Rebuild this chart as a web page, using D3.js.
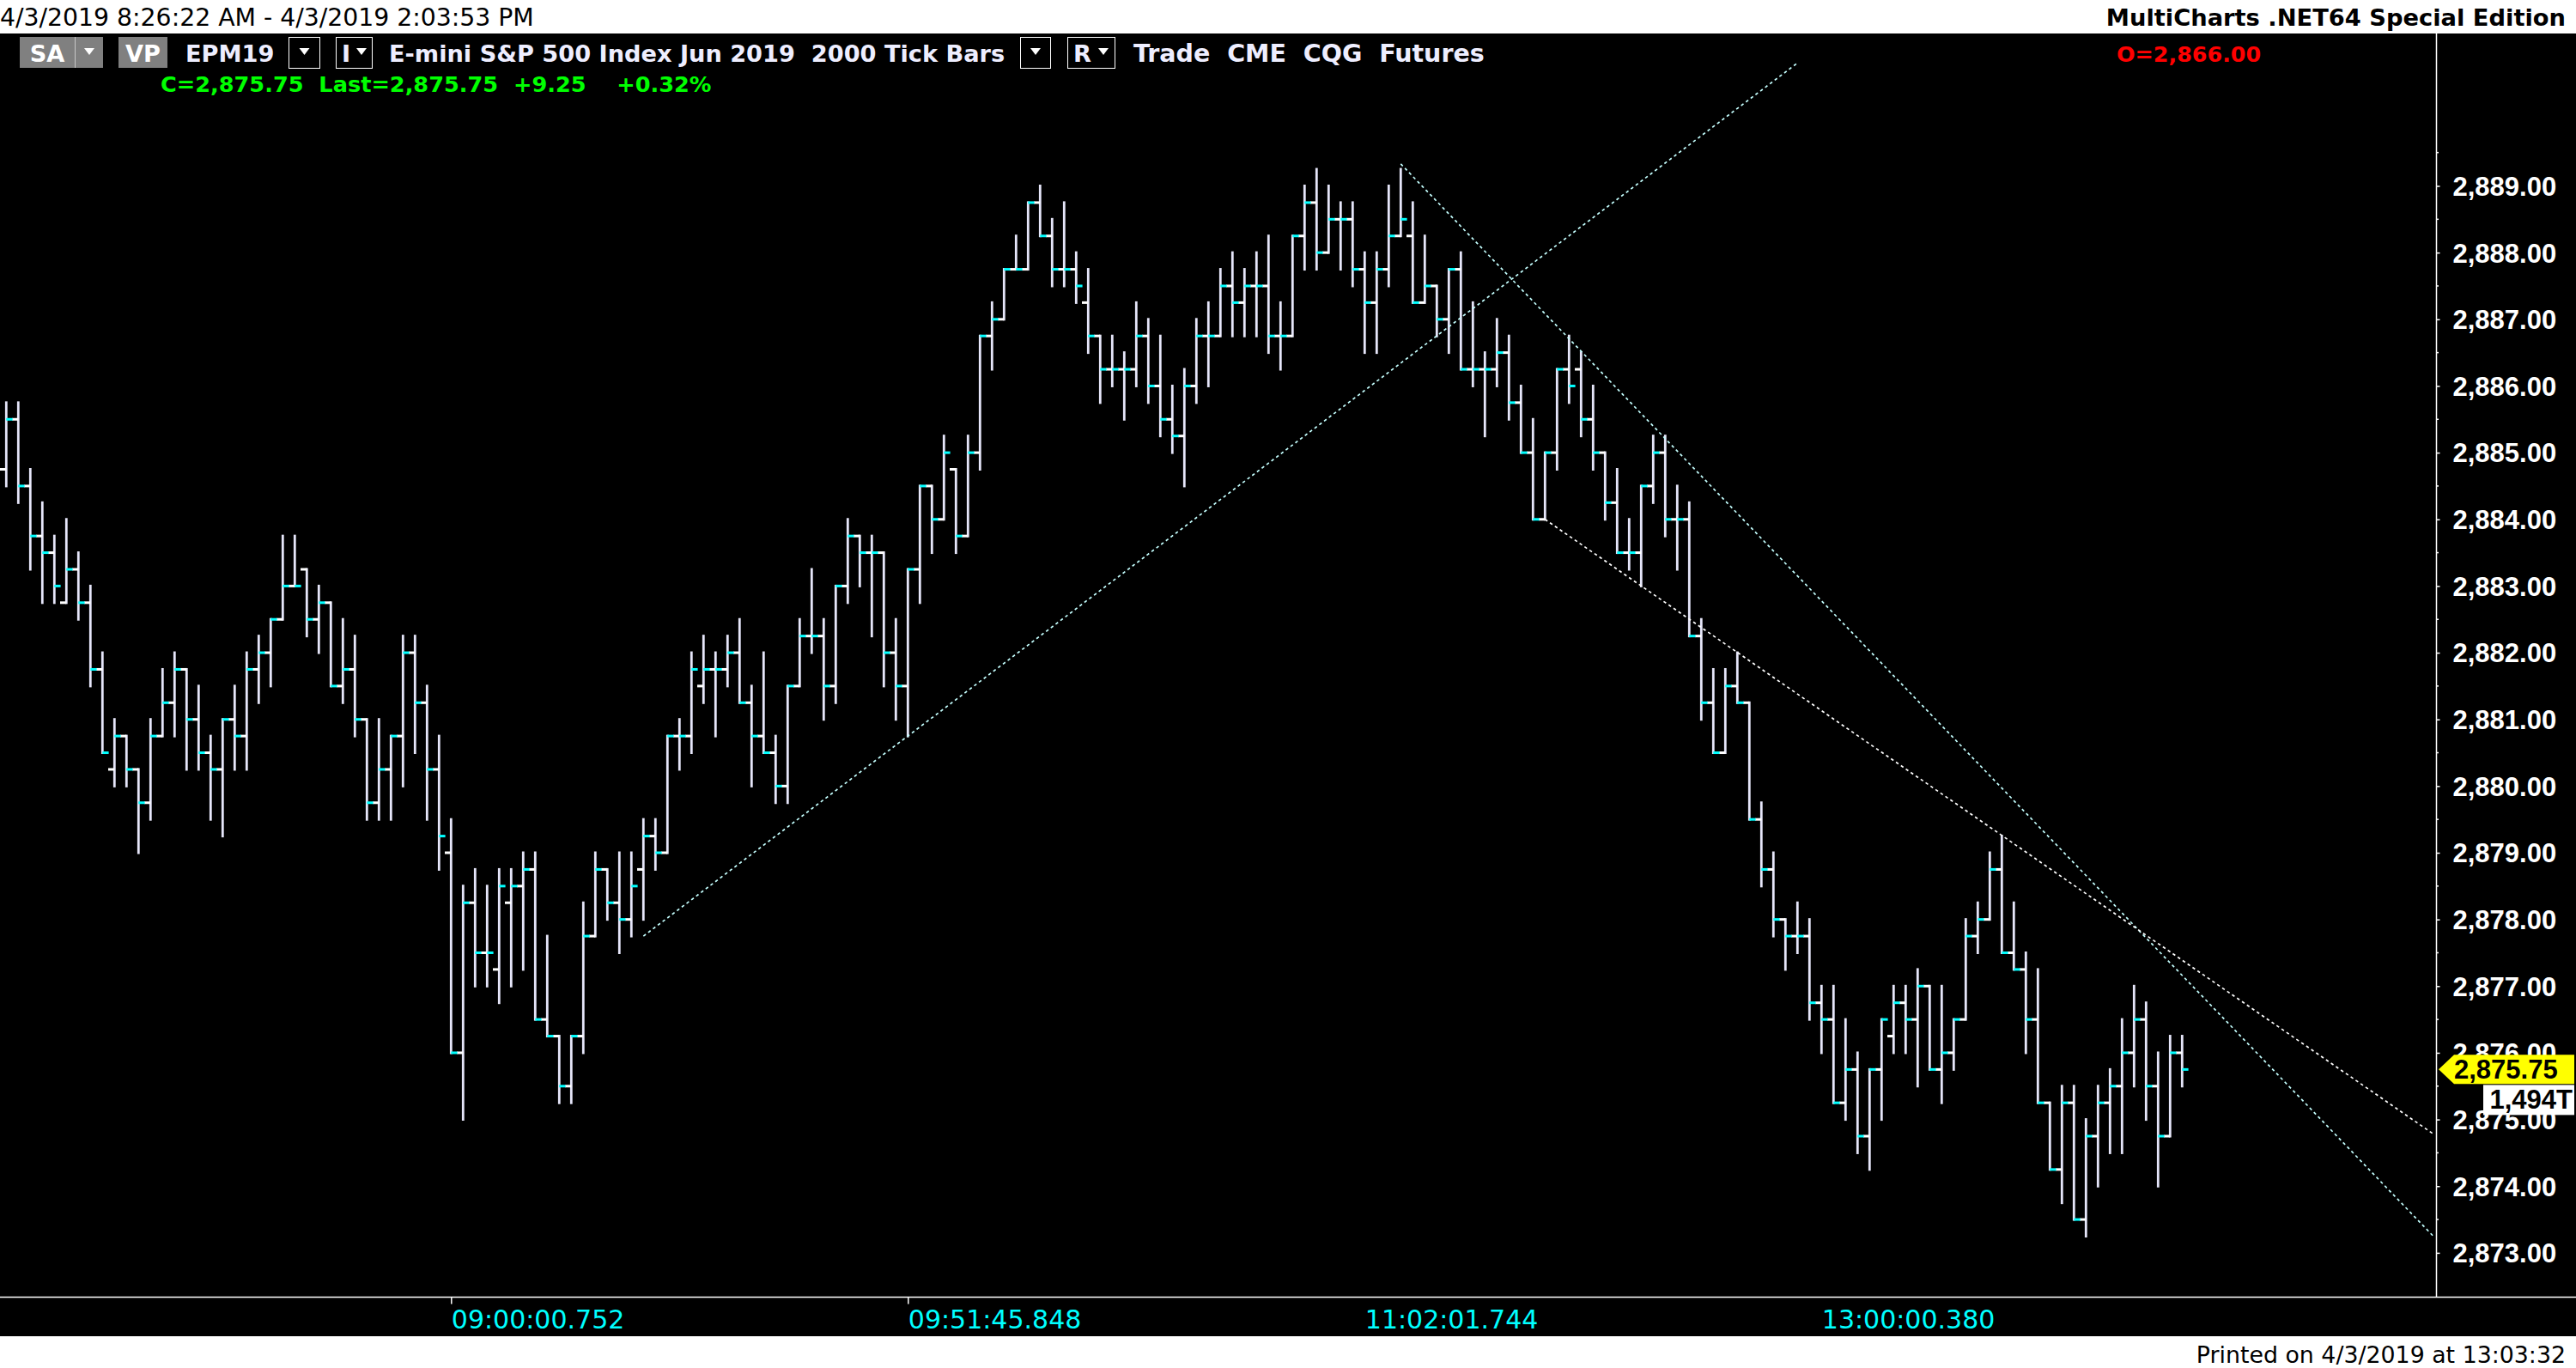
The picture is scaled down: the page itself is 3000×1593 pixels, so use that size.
<!DOCTYPE html>
<html><head><meta charset="utf-8">
<script src="https://cdn.jsdelivr.net/npm/d3@7"></script>
<style>body{margin:0;background:#000;overflow:hidden}svg{display:block}</style>
</head><body>
<script>
// ---- DATA (2000 tick bars, EPM19) ----
const opens = [2884.75,2885.50,2884.50,2883.75,2883.50,2882.75,2883.25,2882.75,2881.75,2880.25,
2880.75,2880.25,2879.75,2880.75,2881.25,2881.75,2881.00,2880.50,2880.25,2881.00,
2880.75,2881.75,2882.00,2882.50,2883.00,2883.25,2882.50,2882.75,2881.50,2881.75,
2881.00,2879.75,2880.25,2880.75,2882.00,2881.25,2880.25,2879.00,2876.00,2878.25,
2877.50,2877.25,2878.25,2878.50,2878.75,2876.50,2876.25,2875.50,2876.25,2877.75,
2878.75,2878.25,2878.00,2878.75,2879.25,2879.00,2880.75,2880.75,2881.50,2881.75,
2881.75,2882.00,2881.25,2880.75,2880.50,2880.00,2881.50,2882.25,2882.25,2881.50,
2883.00,2883.75,2883.50,2883.50,2882.00,2881.50,2883.25,2884.50,2884.00,2884.75,
2883.75,2885.00,2886.75,2887.00,2887.75,2887.75,2888.75,2888.25,2887.75,2887.75,
2887.25,2886.75,2886.25,2886.25,2886.25,2886.75,2886.00,2885.50,2885.25,2886.00,
2886.75,2886.75,2887.50,2887.25,2887.50,2887.50,2886.75,2886.75,2888.25,2888.75,
2888.00,2888.50,2888.50,2887.75,2887.25,2887.75,2888.25,2888.25,2887.25,2887.50,
2887.00,2887.75,2886.25,2886.25,2886.25,2886.50,2885.75,2885.00,2884.00,2885.00,
2886.25,2886.25,2885.50,2885.00,2884.25,2883.50,2883.50,2884.50,2885.00,2884.00,
2884.00,2882.25,2881.25,2880.50,2881.50,2881.25,2879.50,2878.75,2878.00,2877.75,
2877.75,2876.75,2876.50,2875.25,2875.75,2874.75,2875.75,2876.25,2876.75,2876.50,
2877.00,2875.75,2876.00,2876.50,2877.75,2878.00,2878.75,2877.50,2877.25,2876.50,
2875.25,2874.25,2875.25,2873.50,2874.75,2875.25,2875.50,2876.00,2876.50,2875.50,
2874.75,2876.00];
const highs = [2885.75,2885.75,2884.75,2884.25,2883.75,2884.00,2883.50,2883.00,2882.00,2881.00,
2880.75,2880.25,2881.00,2881.75,2882.00,2881.75,2881.50,2880.75,2881.00,2881.50,
2882.00,2882.25,2882.50,2883.75,2883.75,2883.25,2883.00,2882.75,2882.50,2882.25,
2881.00,2881.00,2880.75,2882.25,2882.25,2881.50,2880.75,2879.50,2878.50,2878.75,
2878.50,2878.75,2878.75,2879.00,2879.00,2877.75,2876.25,2876.25,2878.25,2879.00,
2878.75,2879.00,2879.00,2879.50,2879.50,2880.75,2881.00,2882.00,2882.25,2882.00,
2882.25,2882.50,2881.50,2882.00,2880.75,2881.50,2882.50,2883.25,2882.50,2883.00,
2884.00,2883.75,2883.75,2883.50,2882.50,2883.25,2884.50,2884.50,2885.25,2884.75,
2885.25,2886.75,2887.25,2887.75,2888.25,2888.75,2889.00,2888.50,2888.75,2888.00,
2887.75,2886.75,2886.75,2886.50,2887.25,2887.00,2886.75,2886.00,2886.25,2887.00,
2887.25,2887.75,2888.00,2887.75,2888.00,2888.25,2887.25,2888.25,2889.00,2889.25,
2889.00,2888.75,2888.75,2888.00,2888.00,2889.00,2889.25,2888.75,2888.25,2887.50,
2887.75,2888.00,2887.25,2886.50,2887.00,2886.75,2886.00,2885.50,2885.00,2886.25,
2886.75,2886.50,2886.00,2885.00,2884.75,2884.00,2884.50,2885.25,2885.25,2884.50,
2884.25,2882.50,2881.75,2881.75,2882.00,2881.25,2879.75,2879.00,2878.00,2878.25,
2878.00,2877.00,2877.00,2876.50,2876.00,2875.75,2876.50,2877.00,2877.00,2877.25,
2877.00,2877.00,2876.50,2878.00,2878.25,2879.00,2879.25,2878.25,2877.50,2877.25,
2875.25,2875.50,2875.50,2875.00,2875.50,2875.75,2876.50,2877.00,2876.75,2876.00,
2876.25,2876.25];
const lows = [2884.50,2884.25,2883.25,2882.75,2882.75,2882.75,2882.50,2881.50,2880.50,2880.00,
2880.00,2879.00,2879.50,2880.75,2880.75,2880.25,2880.25,2879.50,2879.25,2880.25,
2880.25,2881.25,2881.50,2882.50,2883.00,2882.25,2882.00,2881.50,2881.25,2880.75,
2879.50,2879.50,2879.50,2880.00,2880.50,2879.50,2878.75,2876.00,2875.00,2877.00,
2877.00,2876.75,2877.00,2877.25,2876.50,2876.25,2875.25,2875.25,2876.00,2877.75,
2878.00,2877.50,2877.75,2878.00,2878.75,2879.00,2880.25,2880.50,2881.25,2880.75,
2881.50,2881.25,2880.00,2880.50,2879.75,2879.75,2881.50,2882.00,2881.00,2881.25,
2882.75,2883.00,2882.25,2881.50,2881.00,2880.75,2882.75,2883.50,2884.00,2883.50,
2883.75,2884.75,2886.25,2887.00,2887.75,2887.75,2888.25,2887.50,2887.50,2887.25,
2886.50,2885.75,2886.00,2885.50,2886.00,2885.75,2885.25,2885.00,2884.50,2885.75,
2886.00,2886.75,2886.75,2886.75,2886.75,2886.50,2886.25,2886.75,2887.75,2887.75,
2888.00,2887.75,2887.50,2886.50,2886.50,2887.50,2888.25,2887.25,2887.25,2886.75,
2886.50,2886.25,2886.00,2885.25,2886.00,2885.50,2885.00,2884.00,2884.00,2884.75,
2885.75,2885.25,2884.75,2884.00,2883.50,2883.25,2883.00,2884.25,2883.75,2883.25,
2882.25,2881.00,2880.50,2880.50,2881.25,2879.50,2878.50,2877.75,2877.25,2877.50,
2876.50,2876.00,2875.25,2875.00,2874.50,2874.25,2875.00,2876.00,2876.00,2875.50,
2875.75,2875.25,2875.75,2876.50,2877.50,2878.00,2877.50,2877.25,2876.00,2875.25,
2874.25,2873.75,2873.50,2873.25,2874.00,2874.50,2874.50,2875.50,2875.00,2874.00,
2874.75,2875.50];
const closes = [2885.50,2884.50,2883.75,2883.50,2883.00,2883.25,2882.75,2881.75,2880.50,2880.75,
2880.25,2879.75,2880.75,2881.25,2881.75,2881.00,2880.50,2880.25,2881.00,2880.75,
2881.75,2882.00,2882.50,2883.00,2883.00,2882.50,2882.75,2881.50,2881.75,2881.00,
2879.75,2880.25,2880.75,2882.00,2881.25,2880.25,2879.25,2876.00,2878.25,2877.50,
2877.50,2878.50,2878.50,2878.75,2876.50,2876.25,2875.50,2876.25,2877.75,2878.75,
2878.25,2878.00,2878.50,2879.25,2879.00,2880.75,2880.75,2881.75,2881.75,2881.75,
2882.00,2881.25,2880.75,2880.50,2880.00,2881.50,2882.25,2882.25,2881.50,2883.00,
2883.75,2883.50,2883.50,2882.00,2881.50,2883.25,2884.50,2884.00,2885.00,2883.75,
2885.00,2886.75,2887.00,2887.75,2887.75,2888.75,2888.25,2887.75,2887.75,2887.50,
2886.75,2886.25,2886.25,2886.25,2886.75,2886.00,2885.50,2885.25,2886.00,2886.75,
2886.75,2887.50,2887.25,2887.50,2887.50,2886.75,2886.75,2888.25,2888.75,2888.00,
2888.50,2888.50,2887.75,2887.25,2887.75,2888.25,2888.50,2887.25,2887.50,2887.00,
2887.75,2886.25,2886.25,2886.25,2886.50,2885.75,2885.00,2884.00,2885.00,2886.25,
2886.00,2885.50,2885.00,2884.25,2883.50,2883.50,2884.50,2885.00,2884.00,2884.00,
2882.25,2881.25,2880.50,2881.50,2881.25,2879.50,2878.75,2878.00,2877.75,2877.75,
2876.75,2876.50,2875.25,2875.75,2874.75,2875.75,2876.50,2876.75,2876.50,2877.00,
2875.75,2876.00,2876.50,2877.75,2878.00,2878.75,2877.50,2877.25,2876.50,2875.25,
2874.25,2875.25,2873.50,2874.75,2875.25,2875.50,2876.00,2876.50,2875.50,2874.75,
2876.00,2875.75];
const priceTicks = [2873,2874,2875,2876,2877,2878,2879,2880,2881,2882,2883,2884,2885,2886,2887,2888,2889];
const timeLabels = ["09:00:00.752","09:51:45.848","11:02:01.744","13:00:00.380"];
const timeLabelBars = [37, 75, 113, 151];
const timeTickShown = [true, true, false, false];
// trend lines drawn on the chart: [barIndex, price] end points
const trendA = [[53.0, 2877.75], [148.9, 2890.83]];
const trendB = [[116.0, 2889.33], [202.0, 2873.23]];
const trendD = [[128.0, 2884.00], [202.0, 2874.77]];
const lastPrice = 2875.75;
const lastVolumeLabel = "1,494T";

// ---- DRAWING ----
const W = 3000, H = 1593;
const svg = d3.select("body").append("svg").attr("width", W).attr("height", H);
const bars = opens.map((o, i) => ({i, o, h: highs[i], l: lows[i], c: closes[i]}));

const x = d3.scaleLinear().domain([0, bars.length - 1]).range([7.3, 7.3 + 14 * (bars.length - 1)]);
const y = d3.scaleLinear().domain([2873, 2889]).range([1458.9, 216.5]);

const axisX = 2837.5, axisBottom = 1510.5, plotTop = 39;

svg.append("rect").attr("x", 0).attr("y", 0).attr("width", W).attr("height", H).attr("fill", "#fff");
svg.append("rect").attr("x", 0).attr("y", plotTop).attr("width", W).attr("height", 1556 - plotTop).attr("fill", "#000");

// header
svg.append("text").attr("x", 0).attr("y", 30).attr("font-family", "DejaVu Sans").attr("font-size", 28.3)
  .attr("fill", "#000").text("4/3/2019 8:26:22 AM - 4/3/2019 2:03:53 PM");
svg.append("text").attr("x", 2988).attr("y", 30).attr("text-anchor", "end").attr("font-family", "DejaVu Sans")
  .attr("font-weight", "bold").attr("font-size", 27.3).attr("fill", "#000").text("MultiCharts .NET64 Special Edition");

// footer
svg.append("text").attr("x", 2988).attr("y", 1587).attr("text-anchor", "end").attr("font-family", "DejaVu Sans")
  .attr("font-size", 26.8).attr("fill", "#000").text("Printed on 4/3/2019 at 13:03:32");

// toolbar
const tb = svg.append("g").attr("font-family", "DejaVu Sans").attr("font-weight", "bold").attr("font-size", 27.2);
function tri(cx, cy, col) {
  tb.append("path").attr("d", `M${cx-6},${cy-4}L${cx+6},${cy-4}L${cx},${cy+4}Z`).attr("fill", col);
}
tb.append("rect").attr("x", 23).attr("y", 43).attr("width", 97).attr("height", 36).attr("fill", "#808080");
tb.append("line").attr("x1", 87.5).attr("x2", 87.5).attr("y1", 43).attr("y2", 79).attr("stroke", "#c8c8c8");
tb.append("text").attr("x", 55).attr("y", 72).attr("text-anchor", "middle").attr("fill", "#fff").text("SA");
tri(104, 60, "#fff");
tb.append("rect").attr("x", 138).attr("y", 43).attr("width", 57).attr("height", 36).attr("fill", "#808080");
tb.append("text").attr("x", 166.5).attr("y", 72).attr("text-anchor", "middle").attr("fill", "#fff").text("VP");
tb.append("text").attr("x", 216).attr("y", 72).attr("fill", "#eeeeff").text("EPM19");
tb.append("rect").attr("x", 336.5).attr("y", 43.5).attr("width", 36).attr("height", 36).attr("fill", "#000").attr("stroke", "#fff");
tri(354.5, 60, "#fff");
tb.append("rect").attr("x", 391.5).attr("y", 43.5).attr("width", 42).attr("height", 36).attr("fill", "#000").attr("stroke", "#fff");
tb.append("text").attr("x", 398).attr("y", 72).attr("fill", "#eeeeff").text("I");
tri(421, 60, "#fff");
tb.append("text").attr("x", 453).attr("y", 72).attr("fill", "#eeeeff").style("white-space", "pre")
  .text("E-mini S&P 500 Index Jun 2019  2000 Tick Bars");
tb.append("rect").attr("x", 1188.5).attr("y", 43.5).attr("width", 35).attr("height", 36).attr("fill", "#000").attr("stroke", "#fff");
tri(1206, 60, "#fff");
tb.append("rect").attr("x", 1243.5).attr("y", 43.5).attr("width", 55).attr("height", 36).attr("fill", "#000").attr("stroke", "#fff");
tb.append("text").attr("x", 1250).attr("y", 72).attr("fill", "#eeeeff").text("R");
tri(1285, 60, "#fff");
tb.append("text").attr("x", 1320).attr("y", 72).attr("fill", "#eeeeff").attr("font-size", 28.5).style("white-space", "pre")
  .text("Trade  CME  CQG  Futures");
tb.append("text").attr("x", 187).attr("y", 107).attr("fill", "#00ff00").attr("font-size", 25.6).style("white-space", "pre")
  .text("C=2,875.75  Last=2,875.75  +9.25    +0.32%");
tb.append("text").attr("x", 2465).attr("y", 72).attr("fill", "#ff0000").attr("font-size", 25.4)
  .text("O=2,866.00");

// bars
const gb = svg.append("g");
gb.selectAll("line.v").data(bars).join("line").attr("class", "v")
  .attr("x1", d => x(d.i)).attr("x2", d => x(d.i))
  .attr("y1", d => y(d.h) - 1.5).attr("y2", d => y(d.l) + 1.5)
  .attr("stroke", "#e6e6fa").attr("stroke-width", 2.8);
gb.selectAll("rect.o").data(bars).join("rect").attr("class", "o")
  .attr("x", d => x(d.i) - 7.3).attr("width", 7.3)
  .attr("y", d => y(d.o) - 1.5).attr("height", 3).attr("fill", "#ffffff");
gb.selectAll("rect.c").data(bars).join("rect").attr("class", "c")
  .attr("x", d => x(d.i)).attr("width", 7.3)
  .attr("y", d => y(d.c) - 1.5).attr("height", 3).attr("fill", "#00ffff");

// trend lines
const lineGen = d3.line().x(d => x(d[0])).y(d => y(d[1]));
[[trendA, "#c4ffff"], [trendB, "#c4ffff"], [trendD, "#ffffff"]].forEach(([pts, col]) => {
  svg.append("path").attr("d", lineGen(pts)).attr("fill", "none").attr("stroke", col)
    .attr("stroke-width", 1.7).attr("stroke-dasharray", "3.5,3.5");
});

// frame lines
svg.append("line").attr("x1", 0).attr("x2", W).attr("y1", axisBottom).attr("y2", axisBottom).attr("stroke", "#fff").attr("stroke-width", 1.5);
svg.append("line").attr("x1", axisX).attr("x2", axisX).attr("y1", plotTop).attr("y2", axisBottom).attr("stroke", "#fff").attr("stroke-width", 1.5);

// price axis
const yAxis = d3.axisRight(y).tickValues(priceTicks).tickFormat(d3.format(",.2f")).tickSize(4).tickPadding(15);
const ga = svg.append("g").attr("transform", `translate(${axisX},0)`).call(yAxis);
ga.select(".domain").remove();
ga.selectAll(".tick line").attr("stroke", "#fff").attr("stroke-width", 1.5);
ga.selectAll(".tick text").attr("fill", "#fff").attr("font-family", "Liberation Sans").attr("font-weight", "bold")
  .attr("font-size", 31).attr("dy", "0.35em");
// minor half ticks
svg.append("g").selectAll("line").data(priceTicks.slice(0, -1).map(p => p + 0.5).concat([2889.5])).join("line")
  .attr("x1", axisX).attr("x2", axisX + 2.5).attr("y1", d => y(d)).attr("y2", d => y(d))
  .attr("stroke", "#fff").attr("stroke-width", 1.5);

// time axis
const xAxis = d3.axisBottom(x).tickValues(timeLabelBars).tickFormat((d, i) => timeLabels[i]).tickSize(8).tickPadding(6);
const gx = svg.append("g").attr("transform", `translate(0,${axisBottom})`).call(xAxis);
gx.select(".domain").remove();
gx.selectAll(".tick line").attr("stroke", "#fff").attr("stroke-width", 1.5)
  .attr("opacity", (d, i) => timeTickShown[i] ? 1 : 0);
gx.selectAll(".tick text").attr("fill", "#00ffff").attr("font-family", "DejaVu Sans").attr("font-size", 30)
  .attr("text-anchor", "start").attr("y", 36.5).attr("dy", null);

// last price marker
const yl = y(lastPrice);
svg.append("path").attr("d", `M2840,${yl}L2858,${yl-17}L2998,${yl-17}L2998,${yl+17}L2858,${yl+17}Z`).attr("fill", "#ffff00");
svg.append("text").attr("x", 2858).attr("y", yl + 11).attr("font-family", "Liberation Sans").attr("font-weight", "bold")
  .attr("font-size", 31).attr("fill", "#000").text(d3.format(",.2f")(lastPrice));
svg.append("rect").attr("x", 2892).attr("y", yl + 18).attr("width", 106).attr("height", 35).attr("fill", "#fff");
svg.append("text").attr("x", 2996).attr("y", yl + 46).attr("text-anchor", "end").attr("font-family", "Liberation Sans").attr("font-weight", "bold")
  .attr("font-size", 31).attr("fill", "#000").text(lastVolumeLabel);
</script>
</body></html>
